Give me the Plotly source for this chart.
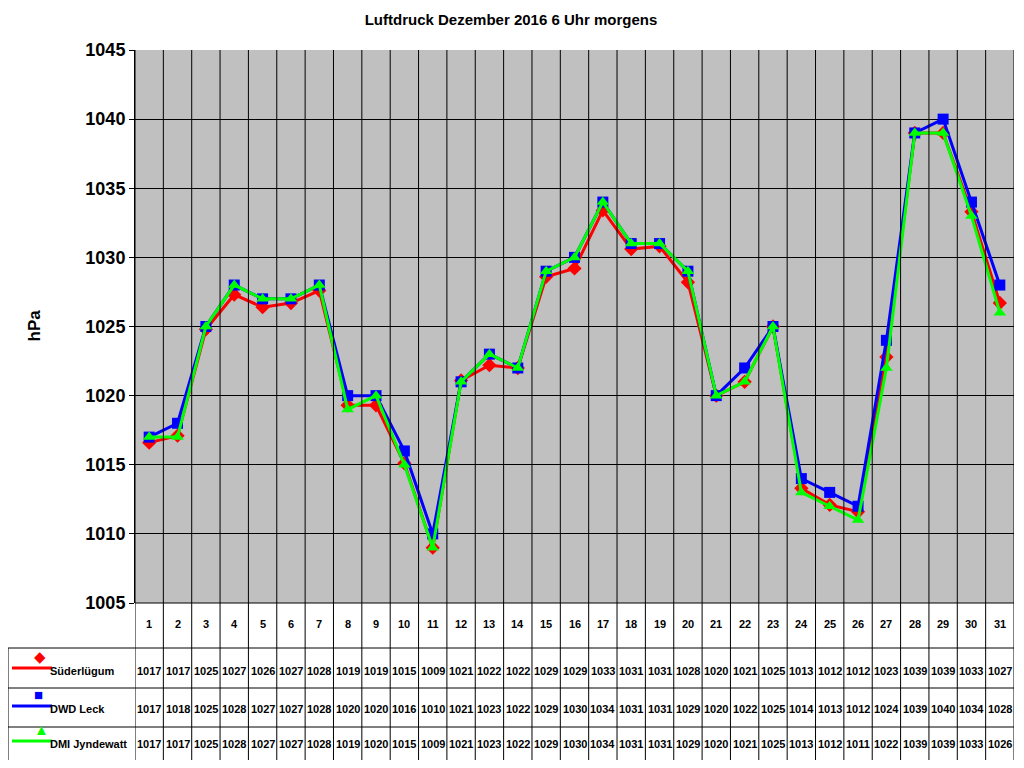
import plotly.graph_objects as go

days = list(range(1, 32))
suederluegum = [1016.6, 1017.1, 1024.8, 1027.3, 1026.4, 1026.7, 1027.6, 1019.3, 1019.3, 1015.1,
                1009.0, 1021.1, 1022.2, 1022.0, 1028.6, 1029.2, 1033.4, 1030.6, 1030.8, 1028.2,
                1020.0, 1021.0, 1025.0, 1013.3, 1012.1, 1011.6, 1022.8, 1039.0, 1039.0, 1033.3, 1026.7]
suederluegum_tab = [1017, 1017, 1025, 1027, 1026, 1027, 1028, 1019, 1019, 1015, 1009, 1021, 1022, 1022, 1029, 1029,
                    1033, 1031, 1031, 1028, 1020, 1021, 1025, 1013, 1012, 1012, 1023, 1039, 1039, 1033, 1027]
dwd_leck = [1017, 1018, 1025, 1028, 1027, 1027, 1028, 1020, 1020, 1016, 1010, 1021, 1023, 1022, 1029, 1030,
            1034, 1031, 1031, 1029, 1020, 1022, 1025, 1014, 1013, 1012, 1024, 1039, 1040, 1034, 1028]
dmi_jyndewatt = [1017, 1017, 1025, 1028, 1027, 1027, 1028, 1019, 1020, 1015, 1009, 1021, 1023, 1022, 1029, 1030,
                 1034, 1031, 1031, 1029, 1020, 1021, 1025, 1013, 1012, 1011, 1022, 1039, 1039, 1033, 1026]

series = [
    ("Süderlügum", suederluegum, suederluegum_tab, "#ff0000", "diamond", "◆"),
    ("DWD Leck", dwd_leck, dwd_leck, "#0000ff", "square", "■"),
    ("DMI Jyndewatt", dmi_jyndewatt, dmi_jyndewatt, "#00ff00", "triangle-up", "▲"),
]

# page has an 8px body margin: work in screen pixels, shift by OFF
OFF = 8
FW, FH = 1008, 752
L, R, T, B = 135 - OFF, 1014 - OFF, 50 - OFF, 603 - OFF
W, H = R - L, B - T


def py(y):
    return (B - (y - OFF)) / H


def px(x):
    return ((x - OFF) - L) / W


fig = go.Figure()
for name, vals, _, col, sym, _g in series:
    fig.add_trace(go.Scatter(x=days, y=vals, mode="lines+markers", name=name,
                             line=dict(color=col, width=3),
                             marker=dict(symbol=sym, size=11, color=col)))

shapes = []
anns = []
font = dict(family="Arial", size=11, color="black")
for k in range(32):
    shapes.append(dict(type="line", xref="x", yref="paper", x0=k + 0.5, x1=k + 0.5,
                       y0=py(762), y1=1, line=dict(color="black", width=1)))
for yy in [648, 688, 727, 762]:
    shapes.append(dict(type="line", xref="paper", yref="paper", x0=px(8), x1=1,
                       y0=py(yy), y1=py(yy), line=dict(color="black", width=1)))
shapes.append(dict(type="line", xref="paper", yref="paper", x0=px(8), x1=px(8),
                   y0=py(762), y1=py(648), line=dict(color="black", width=1)))
shapes.append(dict(type="line", xref="paper", yref="paper", x0=0, x1=1,
                   y0=0, y1=0, line=dict(color="black", width=1)))

for d in days:
    anns.append(dict(x=d, y=py(632), xref="x", yref="paper", text=f"<b>{d}</b>",
                     showarrow=False, font=font))

row_y = [679, 717, 752]
for (name, vals, tab, col, sym, glyph), ry in zip(series, row_y):
    for d, v in zip(days, tab):
        anns.append(dict(x=d, y=py(ry), xref="x", yref="paper", text=f"<b>{v}</b>",
                         showarrow=False, font=dict(family="Arial", size=11, color="black")))
    anns.append(dict(x=px(48), y=py(ry), xref="paper", yref="paper", text=f"<b>{name}</b>",
                     showarrow=False, xanchor="left", font=font))
    shapes.append(dict(type="line", xref="paper", yref="paper", x0=px(12), x1=px(52),
                       y0=py(ry - 11), y1=py(ry - 11), line=dict(color=col, width=3)))
    anns.append(dict(x=px(32), y=py(ry - 11), xref="paper", yref="paper", text=glyph,
                     showarrow=False, font=dict(size=15, color=col)))

anns.append(dict(x=px(22), y=py(326), xref="paper", yref="paper", text="<b>hPa</b>",
                 textangle=-90, showarrow=False, font=dict(family="Arial", size=17, color="black")))

fig.update_layout(
    width=FW, height=FH,
    margin=dict(l=L, r=FW - R, t=T, b=FH - B),
    paper_bgcolor="white", plot_bgcolor="#c0c0c0",
    showlegend=False,
    title=dict(text="<b>Luftdruck Dezember 2016 6 Uhr morgens</b>", x=px(511), xanchor="center",
               xref="paper", y=1 - (20 - OFF) / FH, yanchor="middle",
               font=dict(family="Arial", size=15, color="black")),
    xaxis=dict(range=[0.5, 31.5], showticklabels=False, showgrid=False, zeroline=False),
    yaxis=dict(range=[1005, 1045], dtick=5, showgrid=True, gridcolor="black", gridwidth=1,
               zeroline=False, showline=True, linecolor="black", ticks="outside", ticklen=5,
               tickcolor="black",
               tickfont=dict(family="Arial", size=18, color="black", weight="bold")),
    shapes=shapes, annotations=anns,
)
fig.write_html("out.html")
